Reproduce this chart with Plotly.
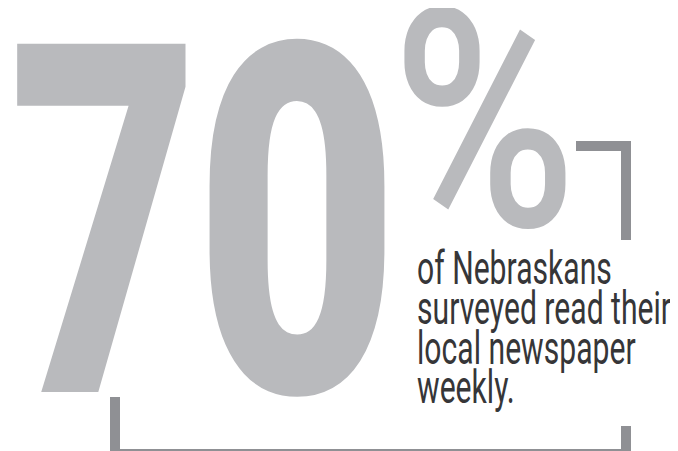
import json
import plotly.graph_objects as go

# ---- data ----
share_value = [70]
share_unit = ["%"]
caption_lines = ["of Nebraskans", "surveyed read their", "local newspaper", "weekly."]

W, H = 678, 451
BIG = "#b9babd"
BRACKET = "#8f9094"
TEXT = "#363638"
FONT = "Roboto, Liberation Sans, Arial, sans-serif"

# horizontal condensing applied to each text (style only): (scaleX, origin)
squeeze = []

fig = go.Figure()
fig.update_layout(
    width=W, height=H, margin=dict(l=0, r=0, t=0, b=0),
    paper_bgcolor="white", plot_bgcolor="white", showlegend=False,
    xaxis=dict(range=[0, W], visible=False, fixedrange=True),
    yaxis=dict(range=[H, 0], visible=False, fixedrange=True),
)

digits = str(share_value[0])
digit_x = [96, 289]
digit_y = [216, 216]
digit_sq = [0.67, 0.72]
for d, x, y, s in zip(digits, digit_x, digit_y, digit_sq):
    fig.add_annotation(x=x, y=y, xref="x", yref="y", text=d, showarrow=False,
                       xanchor="center", yanchor="middle",
                       font=dict(family=FONT, size=490, color=BIG, weight=900))
    squeeze.append((s, "center"))

fig.add_annotation(x=476, y=113, xref="x", yref="y", text=share_unit[0], showarrow=False,
                   xanchor="center", yanchor="middle",
                   font=dict(family=FONT, size=305, color=BIG, weight=500))
squeeze.append((0.82, "center"))

line_y = [260, 300, 340, 379]
for t, y in zip(caption_lines, line_y):
    fig.add_annotation(x=407, y=y, xref="x", yref="y", text=t, showarrow=False,
                       xanchor="left", yanchor="middle",
                       font=dict(family=FONT, size=46, color=TEXT, weight=400))
    squeeze.append((0.655, "left center"))

# brackets
lw = 10
fig.add_shape(type="path", path="M 568 138 L 618 138 L 618 232", xref="x", yref="y",
              line=dict(color=BRACKET, width=lw))
fig.add_shape(type="path", path="M 107 389 L 107 446 L 618 446 L 618 418", xref="x", yref="y",
              line=dict(color=BRACKET, width=lw))

post = """
var gd = document.getElementById('{plot_id}');
var sq = %s;
gd.querySelectorAll('g.annotation').forEach(function(g){
  var i = +g.getAttribute('data-index');
  var t = g.querySelector('text.annotation-text');
  if (!t || !sq[i]) return;
  t.style.transformBox = 'fill-box';
  t.style.transformOrigin = sq[i][1];
  t.style.transform = 'scaleX(' + sq[i][0] + ')';
});
""" % json.dumps(squeeze)

fig.write_html("out.html", post_script=post)
